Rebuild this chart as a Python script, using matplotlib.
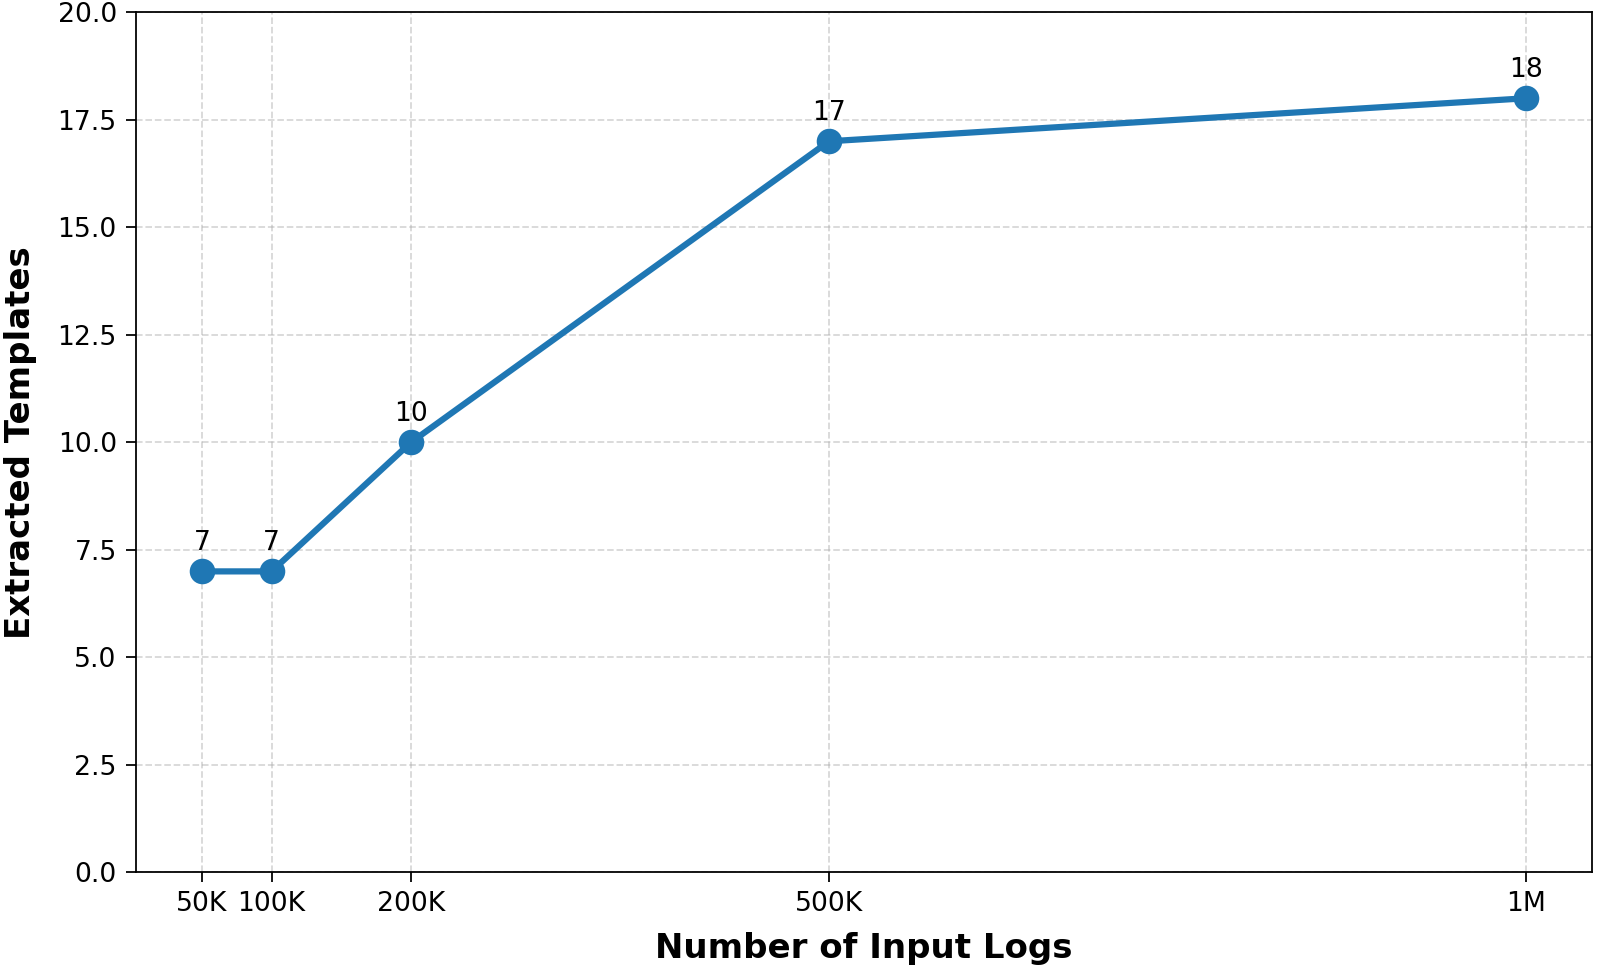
import matplotlib
matplotlib.use("Agg")
import matplotlib.pyplot as plt

logs = [50000, 100000, 200000, 500000, 1000000]
tick_labels = ["50K", "100K", "200K", "500K", "1M"]
templates = [7, 7, 10, 17, 18]

fig = plt.figure(figsize=(10, 6.075), dpi=160)
ax = fig.add_axes([0.0848, 0.1024, 0.9102, 0.885])

ax.plot(logs, templates, color="#1f77b4", linewidth=2.8, marker="o", markersize=10.5, zorder=3)
for x, y in zip(logs, templates):
    ax.annotate(str(y), (x, y), xytext=(0, 7), textcoords="offset points",
                ha="center", va="bottom", fontsize=12)

ax.set_ylim(0, 20)
ax.set_xticks(logs)
ax.set_xticklabels(tick_labels)
ax.tick_params(labelsize=12, length=4.5, pad=4)
ax.grid(True, linestyle="--", alpha=0.5)
ax.set_axisbelow(True)
ax.set_xlabel("Number of Input Logs", fontsize=15.3, fontweight="bold", labelpad=6.6)
ax.set_ylabel("Extracted Templates", fontsize=15.3, fontweight="bold", labelpad=9)

fig.savefig("out.png", dpi=160)
